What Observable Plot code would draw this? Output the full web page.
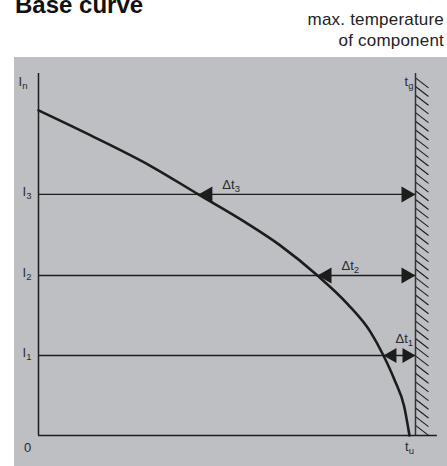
<!DOCTYPE html>
<html>
<head>
<meta charset="utf-8">
<script src="https://cdn.jsdelivr.net/npm/d3@7"></script>
<script src="https://cdn.jsdelivr.net/npm/@observablehq/plot@0.6"></script>
<style>
  html, body { margin: 0; padding: 0; background: #fff; }
  body { font-family: "Liberation Sans", Arial, sans-serif; }
  #wrap { position: relative; width: 447px; height: 466px; overflow: hidden; }
  .title { position: absolute; left: 15px; top: -7px; font-size: 24px; line-height: 24px; font-weight: bold; color: #111; white-space: nowrap; }
  .note { position: absolute; right: 3px; font-size: 17px; line-height: 17px; color: #222; white-space: nowrap; letter-spacing: 0.2px; }
  #panel { position: absolute; left: 14px; top: 57px; width: 433px; height: 409px; background: #bebfc3; }
  #chart { position: absolute; left: 0; top: 0; }
</style>
</head>
<body>
<div id="wrap">
  <div class="title">Base curve</div>
  <div class="note" style="top:11px">max. temperature</div>
  <div class="note" style="top:32px">of component</div>
  <div id="panel"></div>
  <div id="chart"></div>
</div>
<script>
// ---- data (temperature t, current I in relative units) ----
const curveT = [0, 15, 30, 42.4, 55, 64, 74, 82, 88, 91.5, 94.5, 97, 98.4];
const curveI = [89.8, 82.3, 74.3, 66.6, 58.8, 52.6, 44.2, 36.3, 28.7, 22.1, 15.2, 8, 0];
const levelNames = ["I_1", "I_2", "I_3"];
const levelValues = [22.1, 44.2, 66.6];
const intersectT = [91.5, 74, 42.4];     // where each level meets the curve
const deltaNames = ["Δt_1", "Δt_2", "Δt_3"];
const In = 100;        // top of current axis
const tg = 100;        // max. temperature of component (wall)
const tu = 98.4;       // temperature at which the curve reaches 0
const tAxisEnd = 105.8;

const curve = curveT.map((t, i) => ({t, I: curveI[i]}));
const levels = levelValues.map((v, i) => ({name: levelNames[i], I: v, tip: intersectT[i], delta: deltaNames[i]}));
const hatch = d3.range(2.8, In + 0.01, 2.4).map(y => ({y}));

const ink = "#1c1c1c";
const txt = "#2a2a2a";

// arrowheads (tip at the origin, pointing left; rotated 180 for right)
const headBig = {draw(ctx) { ctx.moveTo(0, 0); ctx.lineTo(14, -8); ctx.lineTo(14, 8); ctx.closePath(); }};
const headSmall = {draw(ctx) { ctx.moveTo(0, 0); ctx.lineTo(13, -7.5); ctx.lineTo(13, 7.5); ctx.closePath(); }};

const chart = Plot.plot({
  width: 447,
  height: 466,
  marginLeft: 38,
  marginRight: 32,
  marginTop: 73,
  marginBottom: 31,
  style: {background: "transparent", fontFamily: "Liberation Sans, Arial, sans-serif"},
  x: {domain: [0, tg], axis: null},
  y: {domain: [0, In], axis: null},
  marks: [
    // hatch of the wall
    Plot.link(hatch, {x1: tg, y1: "y", x2: tg + 3.45, y2: d => d.y - 2.76, stroke: ink, strokeWidth: 1.1}),
    // wall
    Plot.ruleX([tg], {y1: 0, y2: In, stroke: "#333", strokeWidth: 1.5}),
    // axes
    Plot.ruleX([0], {y1: 0, y2: In, stroke: ink, strokeWidth: 1.5}),
    Plot.ruleY([0], {x1: 0, x2: tAxisEnd, stroke: ink, strokeWidth: 1.5}),
    // level lines
    Plot.ruleY(levels, {y: "I", x1: 0, x2: tg, stroke: ink, strokeWidth: 1.3}),
    // base curve
    Plot.line(curve, {x: "t", y: "I", curve: "monotone-x", stroke: ink, strokeWidth: 2.6}),
    // arrowheads
    Plot.dot(levels.filter(d => d.name !== "I_1"), {x: "tip", y: "I", symbol: headBig, fill: ink, stroke: null, r: 5}),
    Plot.dot(levels.filter(d => d.name !== "I_1"), {x: tg, y: "I", symbol: headBig, rotate: 180, fill: ink, stroke: null, r: 5}),
    Plot.dot(levels.filter(d => d.name === "I_1"), {x: "tip", y: "I", symbol: headSmall, fill: ink, stroke: null, r: 5}),
    Plot.dot(levels.filter(d => d.name === "I_1"), {x: tg, y: "I", symbol: headSmall, rotate: 180, fill: ink, stroke: null, r: 5}),
    // labels
    Plot.text(levels, {x: 0, y: "I", text: "name", textAnchor: "end", dx: -7, dy: -3, fontSize: 13, fill: txt}),
    Plot.text([In], {x: 0, y: d => d, text: ["I_n"], textAnchor: "end", dx: -11, dy: 8, fontSize: 13, fill: txt}),
    Plot.text([0], {x: 0, y: 0, text: ["0"], dx: -11, dy: 12, fontSize: 13, fill: txt}),
    Plot.text([tu], {x: d => d, y: 0, text: ["t_u"], dx: 0, dy: 11, fontSize: 13, fill: txt}),
    Plot.text([tg], {x: d => d, y: In, text: ["t_g"], textAnchor: "end", dx: -2, dy: 8, fontSize: 13, fill: txt}),
    Plot.text(levels.filter(d => d.name !== "I_1"), {x: "tip", y: "I", text: "delta", textAnchor: "start", dx: 24, dy: -10, fontSize: 13, fill: txt}),
    Plot.text(levels.filter(d => d.name === "I_1"), {x: "tip", y: "I", text: "delta", textAnchor: "start", dx: 12, dy: -17, fontSize: 13, fill: txt})
  ]
});

// render "_x" as a subscript
d3.select(chart).selectAll("text").each(function() {
  const el = this;
  const targets = el.querySelectorAll("tspan").length ? Array.from(el.querySelectorAll("tspan")) : [el];
  targets.forEach(node => {
    const s = node.textContent;
    const k = s.indexOf("_");
    if (k < 0) return;
    node.textContent = "";
    const a = document.createElementNS("http://www.w3.org/2000/svg", "tspan");
    a.textContent = s.slice(0, k);
    const b = document.createElementNS("http://www.w3.org/2000/svg", "tspan");
    b.textContent = s.slice(k + 1);
    b.setAttribute("font-size", "9.5");
    b.setAttribute("dy", "3");
    node.appendChild(a);
    node.appendChild(b);
  });
});

document.getElementById("chart").appendChild(chart);
</script>
</body>
</html>
